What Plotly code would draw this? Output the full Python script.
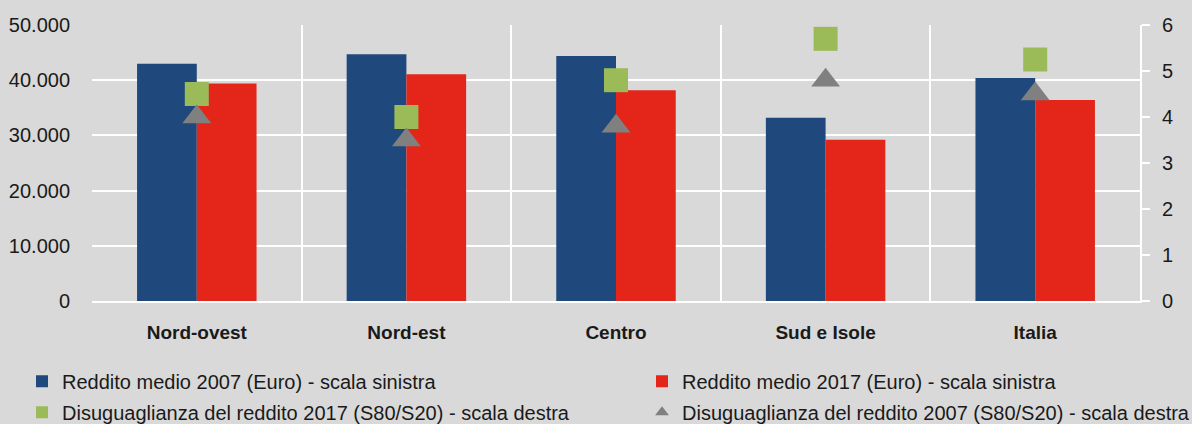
import plotly.graph_objects as go

categories = ["Nord-ovest", "Nord-est", "Centro", "Sud e Isole", "Italia"]
reddito_2007 = [43000, 44700, 44400, 33200, 40400]
reddito_2017 = [39400, 41100, 38200, 29200, 36400]
disug_2017 = [4.5, 4.0, 4.8, 5.7, 5.25]
disug_2007 = [4.0, 3.5, 3.8, 4.8, 4.5]

names = [
    "Reddito medio 2007 (Euro) - scala sinistra",
    "Reddito medio 2017 (Euro) - scala sinistra",
    "Disuguaglianza del reddito 2017 (S80/S20) - scala destra",
    "Disuguaglianza del reddito 2007 (S80/S20) - scala destra",
]

FONT = "Liberation Sans Narrow, Arial Narrow, Liberation Sans, sans-serif"
BG = "#d9d9d9"
TXT = "#1a1a1a"

fig = go.Figure()
fig.add_trace(go.Bar(x=categories, y=reddito_2007, name=names[0],
                     legend="legend", legendgroup="a",
                     marker=dict(color="#1f497d", line=dict(width=0))))
fig.add_trace(go.Bar(x=categories, y=reddito_2017, name=names[1],
                     legend="legend2", legendgroup="b",
                     marker=dict(color="#e32619", line=dict(width=0))))
fig.add_trace(go.Scatter(x=categories, y=disug_2017, name=names[2], yaxis="y2",
                         mode="markers", legend="legend", legendgroup="c",
                         marker=dict(symbol="square", size=24, color="#9bbb59")))
fig.add_trace(go.Scatter(x=categories, y=disug_2007, name=names[3], yaxis="y2",
                         mode="markers", legend="legend2", legendgroup="d",
                         marker=dict(symbol="triangle-up", size=25, color="#808080")))

leg_common = dict(orientation="v", yanchor="top", y=-0.22, xanchor="left",
                  itemsizing="constant", tracegroupgap=2, traceorder="grouped",
                  font=dict(family=FONT, size=20, color=TXT),
                  bgcolor="rgba(0,0,0,0)")

fig.update_layout(
    width=1192, height=424,
    margin=dict(l=92, r=52, t=25, b=123, autoexpand=False),
    paper_bgcolor=BG, plot_bgcolor=BG,
    font=dict(family=FONT, size=18, color=TXT),
    separators=",.",
    barmode="group",
    bargap=0.43,
    bargroupgap=0,
    hovermode=False,
    showlegend=True,
    legend=dict(x=(22 - 92) / 1048, **leg_common),
    legend2=dict(x=(642 - 92) / 1048, **leg_common),
    xaxis=dict(
        type="category", tickson="boundaries", showgrid=True, gridcolor="white",
        gridwidth=2, showline=True, linecolor="white", linewidth=2, ticks="",
        tickfont=dict(family=FONT, size=19, color=TXT, weight="bold"),
        ticklabelstandoff=13, zeroline=False,
    ),
    yaxis=dict(
        range=[0, 50000], dtick=10000, tickformat=",.0f", showgrid=True,
        gridcolor="white", gridwidth=2, zeroline=False, showline=False,
        ticks="", ticklabelstandoff=21,
        tickfont=dict(family=FONT, size=20, color=TXT),
    ),
    yaxis2=dict(
        overlaying="y", side="right", range=[0, 6], dtick=1, showgrid=False,
        zeroline=False, showline=True, linecolor="white", linewidth=2,
        ticks="outside", ticklen=8, tickcolor="white", tickwidth=2,
        tickfont=dict(family=FONT, size=20, color=TXT), ticklabelstandoff=8,
    ),
)

fig.write_html("out.html", config={"displayModeBar": False},
               post_script="document.body.style.margin='0';document.body.style.overflow='hidden';")
